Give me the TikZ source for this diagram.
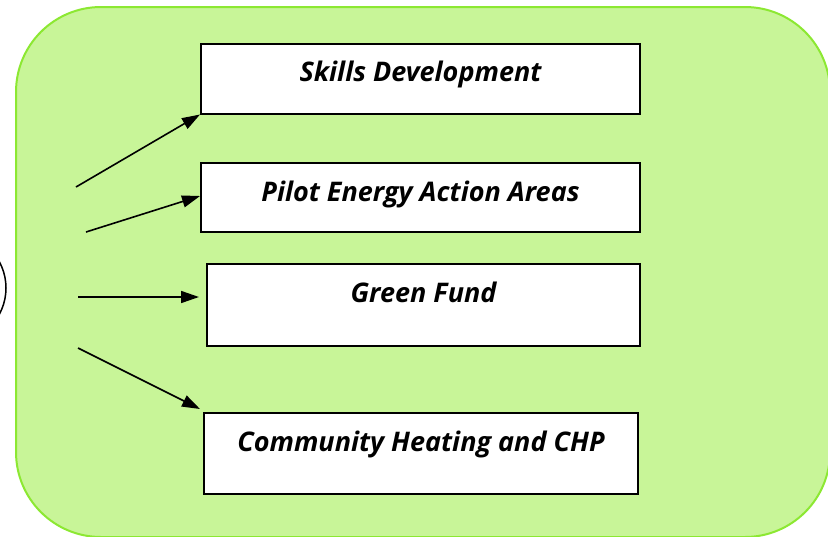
\documentclass[tikz,border=0pt]{standalone}
\usepackage{fontspec}
\setmainfont{Open Sans}
\usetikzlibrary{arrows.meta, positioning}
\definecolor{panelfill}{RGB}{200,245,152}
\definecolor{panelline}{RGB}{140,232,50}
\tikzset{
  actbox/.style={draw, line width=2pt, fill=white, minimum width=439pt,
    inner xsep=0pt, inner ysep=0pt, text height=38pt,
    font=\fontsize{27}{31}\selectfont\bfseries\itshape},
  link/.style={line width=1.6pt}
}
\begin{document}
\begin{tikzpicture}[x=1pt,y=-1pt,node distance=2cm,on grid,>={Triangle[length=18pt,width=12pt]}]
        \useasboundingbox (0,0) rectangle (828,536);
        \fill[panelfill, draw=panelline, line width=2pt, rounded corners=85pt]
          (16,7) rectangle (830,537);
        \node[draw, circle, line width=1.5pt, minimum size=110pt] (core) at (-49,288) {};
        \node[actbox,text depth=32pt] (skills) at (420.5,78.5) {Skills Development};
        \node[actbox,text depth=31pt] (pilot) [below=119pt of skills] {Pilot Energy Action Areas};
        \node[actbox,text depth=44pt,minimum width=433pt] (fund) [below=107.5pt of pilot,xshift=3pt] {Green Fund};
        \node[actbox,text depth=43pt,minimum width=434pt] (chp) [below=148.5pt of fund,xshift=-2.5pt] {Community Heating and CHP};
        \coordinate (from1) at (76,187);
        \coordinate (from2) at (86,232);
        \coordinate (from3) at (78,297);
        \coordinate (from4) at (78,348);
        \path[->,link]
        (from1) edge (skills.south west)
        (from2) edge ([yshift=1.5pt]pilot.west)
        (from3) edge[shorten >=7pt] (from3 -| fund.west)
        (from4) edge ([xshift=-3pt,yshift=3pt]chp.north west);
      \end{tikzpicture}
\end{document}
